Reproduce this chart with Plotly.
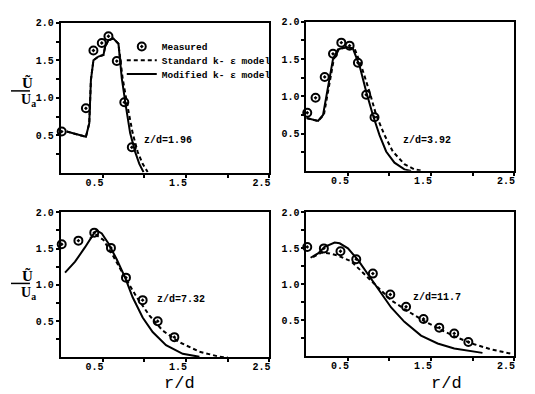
import plotly.graph_objects as go

# ---------------- data ----------------
panel_labels = ["z/d=1.96", "z/d=3.92", "z/d=7.32", "z/d=11.7"]

# panel 1 (z/d=1.96)
meas1_r = [0.01, 0.30, 0.39, 0.49, 0.57, 0.67, 0.76, 0.85]
meas1_u = [0.55, 0.86, 1.63, 1.73, 1.82, 1.49, 0.94, 0.34]
mod1_r = [0.07, 0.30, 0.34, 0.36, 0.39, 0.45, 0.51, 0.53, 0.57, 0.63, 0.69, 0.73, 0.78, 0.83, 0.89, 0.94, 0.99]
mod1_u = [0.55, 0.48, 0.66, 1.24, 1.50, 1.55, 1.57, 1.68, 1.77, 1.79, 1.72, 1.26, 0.88, 0.53, 0.28, 0.12, 0.01]
std1_r = [0.07, 0.30, 0.34, 0.36, 0.39, 0.45, 0.51, 0.53, 0.57, 0.63, 0.69, 0.74, 0.80, 0.86, 0.92, 0.98, 1.04]
std1_u = [0.55, 0.48, 0.66, 1.24, 1.50, 1.55, 1.57, 1.68, 1.77, 1.79, 1.72, 1.26, 0.88, 0.53, 0.28, 0.12, 0.01]

# panel 2 (z/d=3.92)
meas2_r = [0.01, 0.11, 0.22, 0.32, 0.42, 0.52, 0.62, 0.72, 0.82]
meas2_u = [0.78, 0.98, 1.26, 1.57, 1.72, 1.68, 1.45, 1.02, 0.72]
mod2_r = [0.00, 0.14, 0.20, 0.26, 0.32, 0.38, 0.48, 0.56, 0.64, 0.72, 0.80, 0.88, 0.96, 1.06, 1.18, 1.26]
mod2_u = [0.71, 0.67, 0.75, 1.14, 1.50, 1.63, 1.66, 1.64, 1.41, 1.06, 0.75, 0.48, 0.26, 0.11, 0.02, 0.00]
std2_r = [0.00, 0.14, 0.21, 0.27, 0.33, 0.39, 0.49, 0.58, 0.66, 0.76, 0.84, 0.94, 1.04, 1.18, 1.30, 1.40]
std2_u = [0.71, 0.67, 0.75, 1.14, 1.50, 1.63, 1.66, 1.64, 1.41, 1.06, 0.75, 0.48, 0.26, 0.09, 0.02, 0.00]

# panel 3 (z/d=7.32)
meas3_r = [0.01, 0.21, 0.40, 0.60, 0.78, 0.98, 1.16, 1.36]
meas3_u = [1.56, 1.61, 1.72, 1.51, 1.10, 0.79, 0.50, 0.28]
mod3_r = [0.05, 0.17, 0.29, 0.39, 0.43, 0.49, 0.57, 0.67, 0.77, 0.86, 0.98, 1.10, 1.26, 1.46, 1.66]
mod3_u = [1.17, 1.32, 1.52, 1.70, 1.75, 1.71, 1.57, 1.35, 1.10, 0.83, 0.55, 0.35, 0.17, 0.05, 0.01]
std3_r = [0.35, 0.41, 0.51, 0.63, 0.77, 0.91, 1.06, 1.22, 1.42, 1.66, 1.90, 2.00]
std3_u = [1.64, 1.70, 1.62, 1.39, 1.10, 0.83, 0.58, 0.37, 0.21, 0.08, 0.01, 0.00]

# panel 4 (z/d=11.7)
meas4_r = [0.01, 0.21, 0.41, 0.60, 0.80, 1.01, 1.20, 1.41, 1.60, 1.78, 1.95]
meas4_u = [1.52, 1.50, 1.46, 1.35, 1.15, 0.86, 0.69, 0.52, 0.40, 0.32, 0.20]
mod4_r = [0.05, 0.14, 0.22, 0.34, 0.40, 0.50, 0.62, 0.74, 0.86, 1.02, 1.18, 1.38, 1.58, 1.78, 2.12]
mod4_u = [1.37, 1.43, 1.52, 1.58, 1.57, 1.50, 1.34, 1.14, 0.93, 0.68, 0.48, 0.29, 0.18, 0.11, 0.05]
std4_r = [0.08, 0.18, 0.28, 0.38, 0.54, 0.70, 0.86, 1.02, 1.22, 1.42, 1.62, 1.82, 2.02, 2.22, 2.46]
std4_u = [1.38, 1.44, 1.43, 1.40, 1.32, 1.14, 0.95, 0.78, 0.63, 0.49, 0.37, 0.26, 0.17, 0.10, 0.04]

x_tickvals = [0.5, 1.0, 1.5, 2.0, 2.5]
x_ticktext = ["0.5", "", "1.5", "", "2.5"]
y_tickvals = [0.25, 0.5, 0.75, 1.0, 1.25, 1.5, 1.75, 2.0]
y_ticktext = ["", "0.5", "", "1.0", "", "1.5", "", "2.0"]

series_names = ["Measured", "Standard k- \u03b5 model", "Modified k- \u03b5 model"]

panels = [
    (meas1_r, meas1_u, std1_r, std1_u, mod1_r, mod1_u),
    (meas2_r, meas2_u, std2_r, std2_u, mod2_r, mod2_u),
    (meas3_r, meas3_u, std3_r, std3_u, mod3_r, mod3_u),
    (meas4_r, meas4_u, std4_r, std4_u, mod4_r, mod4_u),
]

# ---------------- figure ----------------
W, H = 535, 394
mono = "Liberation Mono"
fig = go.Figure()

px_dom = [
    ((61, 270), (18, 170)),
    ((307, 515), (17, 168)),
    ((61, 270), (210, 357)),
    ((307, 515), (210, 356)),
]

marker_style = dict(symbol="circle-open-dot", size=8, color="black",
                    line=dict(width=2, color="black"))
dash_style = dict(color="black", width=2, dash="4px,3px")
solid_style = dict(color="black", width=2)

for i, (mr, mu, sr, su, dr, du) in enumerate(panels):
    n = "" if i == 0 else str(i + 1)
    xa, ya = "x" + n, "y" + n
    first = i == 0
    fig.add_trace(go.Scatter(x=sr, y=su, mode="lines", name=series_names[1],
                             line=dash_style, xaxis=xa, yaxis=ya,
                             showlegend=first, legend="legend2"))
    fig.add_trace(go.Scatter(x=dr, y=du, mode="lines", name=series_names[2],
                             line=solid_style, xaxis=xa, yaxis=ya,
                             showlegend=first, legend="legend3"))
    fig.add_trace(go.Scatter(x=mr, y=mu, mode="markers", name=series_names[0],
                             marker=marker_style, xaxis=xa, yaxis=ya,
                             showlegend=first, legend="legend", cliponaxis=False))
    (x0, x1), (y0, y1) = px_dom[i]
    axcommon = dict(showline=True, linewidth=2, linecolor="black", mirror=True,
                    showgrid=False, zeroline=False, ticks="outside", ticklen=3,
                    tickwidth=1.5, tickcolor="black",
                    tickfont=dict(family=mono, size=10, color="black", weight="bold"))
    fig.layout["xaxis" + n] = dict(axcommon, domain=[x0 / W, x1 / W], range=[0, 2.5],
                                   tickvals=x_tickvals, ticktext=x_ticktext,
                                   ticklabelshift=-8, ticklabelstandoff=-4, anchor=ya)
    fig.layout["yaxis" + n] = dict(axcommon, domain=[1 - y1 / H, 1 - y0 / H], range=[0, 2.0],
                                   tickvals=y_tickvals, ticktext=y_ticktext, anchor=xa)

# panel labels
label_pos = [(142, 137), (402, 137), (155, 298), (412, 296)]
for lab, (lx, ly) in zip(panel_labels, label_pos):
    fig.add_annotation(text=lab, x=lx / W, y=1 - ly / H, xref="paper", yref="paper",
                       xanchor="left", yanchor="middle", showarrow=False,
                       font=dict(family=mono, size=10, color="black", weight="bold"))

# y-axis titles (fraction) on left panels
serif_b = dict(family="Liberation Serif", size=15, color="black", weight="bold")
serif_s = dict(family="Liberation Serif", size=14, color="black", weight="bold")
for cy in (87, 282):
    fig.add_annotation(text="\u0168", x=20 / W, y=1 - (cy - 8) / H, xref="paper", yref="paper",
                       showarrow=False, font=serif_b, yanchor="middle")
    fig.add_annotation(text="U<sub>a</sub>", x=19 / W, y=1 - (cy + 10) / H, xref="paper",
                       yref="paper", showarrow=False, font=serif_s, yanchor="middle")
    fig.add_shape(type="line", xref="paper", yref="paper", x0=11 / W, x1=30 / W,
                  y0=1 - cy / H, y1=1 - cy / H, line=dict(color="black", width=1.5))

# x-axis titles
for cx in (180, 465):
    fig.add_annotation(text="r/d", x=cx / W, y=1 - 383 / H, xref="paper", yref="paper",
                       showarrow=False, yanchor="middle",
                       font=dict(family=mono, size=17, color="black"))

leg_common = dict(x=122 / W, xanchor="left", yanchor="middle",
                  bgcolor="rgba(0,0,0,0)", itemwidth=30,
                  font=dict(family=mono, size=9.5, color="black", weight="bold"))
fig.update_layout(
    width=W, height=H, margin=dict(l=0, r=0, t=0, b=0),
    paper_bgcolor="white", plot_bgcolor="white",
    legend=dict(leg_common, y=1 - 42 / H),
    legend2=dict(leg_common, y=1 - 56 / H),
    legend3=dict(leg_common, y=1 - 70 / H),
)

fig.write_html("out.html", config={"displayModeBar": False},
               post_script="document.body.style.margin='0';")
